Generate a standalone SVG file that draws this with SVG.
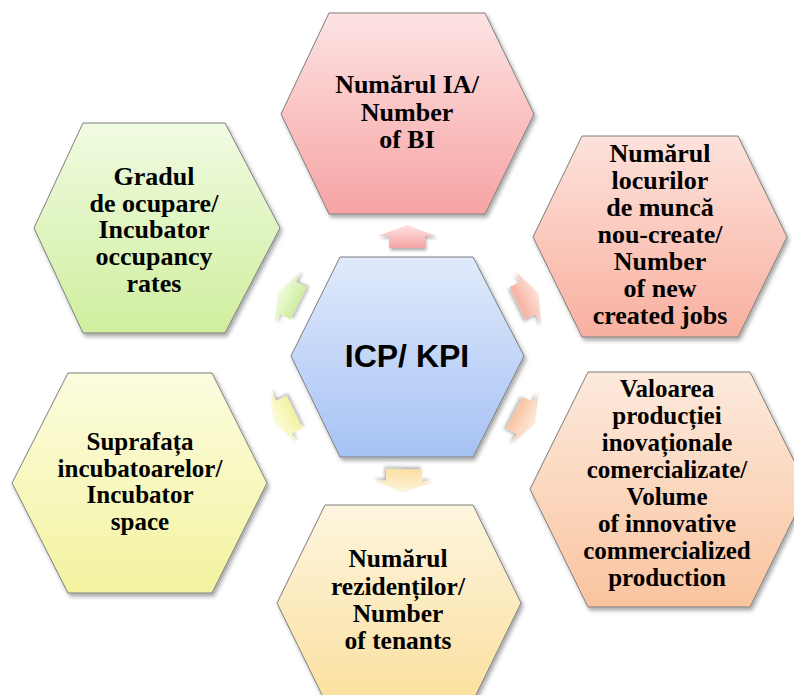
<svg xmlns="http://www.w3.org/2000/svg" width="794" height="695" viewBox="0 0 794 695">
<defs>
<style>
.hex{stroke:#7f7f7f;stroke-width:1;filter:url(#sh)}
.arr{filter:url(#sh2)}
.t{font-family:"Liberation Serif","Times New Roman",serif;font-weight:bold;fill:#000;text-anchor:middle}
.c{font-family:"Liberation Sans",Arial,sans-serif;font-weight:bold;font-size:32px;fill:#000;text-anchor:middle}
</style>
<filter id="sh" x="-10%" y="-10%" width="125%" height="125%">
<feDropShadow dx="2" dy="3" stdDeviation="2.2" flood-color="#000" flood-opacity="0.35"/>
</filter>
<filter id="sh2" x="-30%" y="-30%" width="160%" height="160%">
<feDropShadow dx="1.5" dy="2.5" stdDeviation="1.8" flood-color="#000" flood-opacity="0.3"/>
</filter>
<linearGradient id="gTop" x1="0" y1="0" x2="0" y2="1"><stop offset="0" stop-color="#fde3e3"/><stop offset="1" stop-color="#f7a3a3"/></linearGradient>
<linearGradient id="gUR" x1="0" y1="0" x2="0" y2="1"><stop offset="0" stop-color="#fde2db"/><stop offset="1" stop-color="#f8b09f"/></linearGradient>
<linearGradient id="gLR" x1="0" y1="0" x2="0" y2="1"><stop offset="0" stop-color="#fdeadd"/><stop offset="1" stop-color="#f9c49f"/></linearGradient>
<linearGradient id="gB" x1="0" y1="0" x2="0" y2="1"><stop offset="0" stop-color="#fdf5df"/><stop offset="1" stop-color="#fbe09f"/></linearGradient>
<linearGradient id="gLL" x1="0" y1="0" x2="0" y2="1"><stop offset="0" stop-color="#fcfcdf"/><stop offset="1" stop-color="#f3f3a0"/></linearGradient>
<linearGradient id="gUL" x1="0" y1="0" x2="0" y2="1"><stop offset="0" stop-color="#f1fbe2"/><stop offset="1" stop-color="#cfee9e"/></linearGradient>
<linearGradient id="gC" x1="0" y1="0" x2="0" y2="1"><stop offset="0" stop-color="#e0eafb"/><stop offset="1" stop-color="#a6c2f4"/></linearGradient>
<polygon id="arrow" points="0,-11.5 29,-0.5 18,-0.5 18,11.5 -18,11.5 -18,-0.5 -29,-0.5"/>
</defs>
<rect width="794" height="695" fill="#fff"/>

<g id="node-top">
<polygon class="hex" fill="url(#gTop)" points="281,114 329,13 485,13 534,114 485,214 329,214"/>
<text class="t" font-size="26"><tspan x="407" y="93">Numărul IA/</tspan><tspan x="407" y="120.5">Number</tspan><tspan x="407" y="148">of BI</tspan></text>
</g>

<g id="node-upper-right">
<polygon class="hex" fill="url(#gUR)" points="533,237 582,136 738,136 787,237 738,337 582,337"/>
<text class="t" font-size="26"><tspan x="660" y="161.5">Numărul</tspan><tspan x="660" y="188.5">locurilor</tspan><tspan x="660" y="215.5">de muncă</tspan><tspan x="660" y="242.5">nou-create/</tspan><tspan x="660" y="269.5">Number</tspan><tspan x="660" y="296.5">of new</tspan><tspan x="660" y="323.5">created jobs</tspan></text>
</g>

<g id="node-lower-right">
<polygon class="hex" fill="url(#gLR)" points="530,489 588,372 750,372 808,489 750,607 588,607"/>
<text class="t" font-size="25"><tspan x="667" y="396.5">Valoarea</tspan><tspan x="667" y="423.5">producției</tspan><tspan x="667" y="450.5">inovaționale</tspan><tspan x="667" y="477.5">comercializate/</tspan><tspan x="667" y="504.5">Volume</tspan><tspan x="667" y="531.5">of innovative</tspan><tspan x="667" y="558.5">commercialized</tspan><tspan x="667" y="585.5">production</tspan></text>
</g>

<g id="node-bottom">
<polygon class="hex" fill="url(#gB)" points="277,603 325,505 473,505 521,603 473,701 325,701"/>
<text class="t" font-size="25.5"><tspan x="398" y="567">Numărul</tspan><tspan x="398" y="594.5">rezidenților/</tspan><tspan x="398" y="622">Number</tspan><tspan x="398" y="649">of tenants</tspan></text>
</g>

<g id="node-lower-left">
<polygon class="hex" fill="url(#gLL)" points="12,483 68,373 212,373 267,483 212,593 68,593"/>
<text class="t" font-size="25"><tspan x="140" y="450">Suprafața</tspan><tspan x="140" y="476.7">incubatoarelor/</tspan><tspan x="140" y="503.3">Incubator</tspan><tspan x="140" y="530">space</tspan></text>
</g>

<g id="node-upper-left">
<polygon class="hex" fill="url(#gUL)" points="34,228 83,123 225,123 280,228 225,333 83,333"/>
<text class="t" font-size="26"><tspan x="154" y="185">Gradul</tspan><tspan x="154" y="211.7">de ocupare/</tspan><tspan x="154" y="238.3">Incubator</tspan><tspan x="154" y="265">occupancy</tspan><tspan x="154" y="291.7">rates</tspan></text>
</g>

<g id="node-center">
<polygon class="hex" fill="url(#gC)" points="291,356 340,257 473,257 524,356 473,457 340,457"/>
<text class="c" x="407" y="367">ICP/ KPI</text>
</g>

<g id="connectors">
<use href="#arrow" class="arr" fill="url(#gTop)" transform="translate(407,236.5)"/>
<use href="#arrow" class="arr" fill="url(#gUR)" transform="translate(528,298) rotate(64)"/>
<use href="#arrow" class="arr" fill="url(#gLR)" transform="translate(525,418) rotate(117.3)"/>
<use href="#arrow" class="arr" fill="url(#gB)" transform="translate(404,481) rotate(181)"/>
<use href="#arrow" class="arr" fill="url(#gLL)" transform="translate(284,417) rotate(244)"/>
<use href="#arrow" class="arr" fill="url(#gUL)" transform="translate(288,298) rotate(-63.6)"/>
</g>
</svg>
